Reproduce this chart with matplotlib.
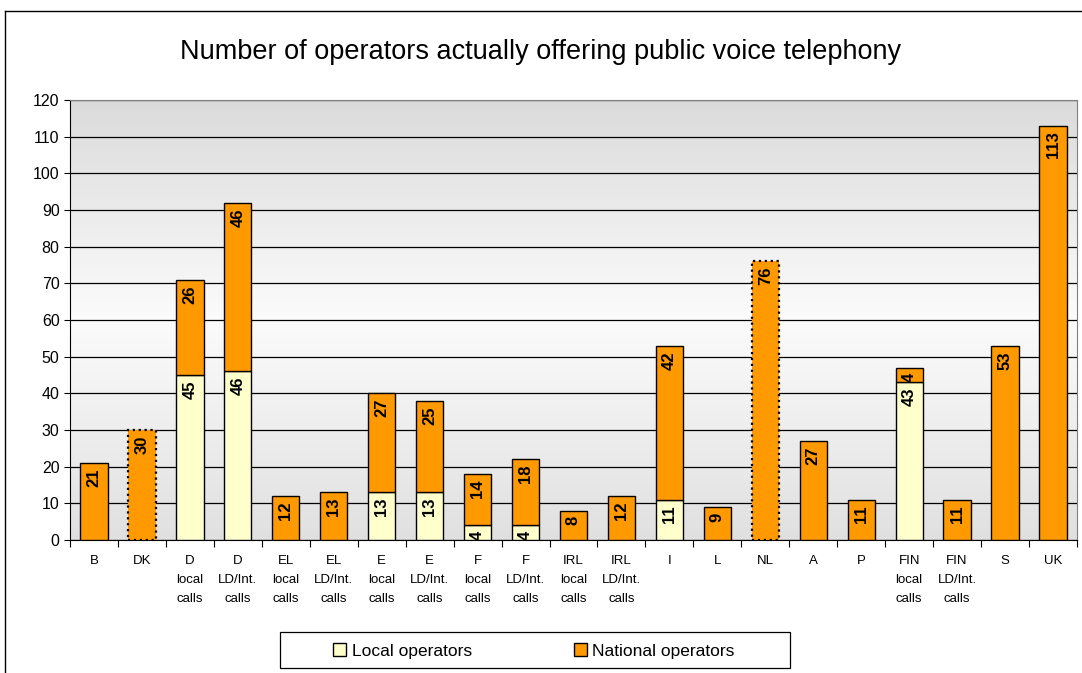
import numpy as np
import matplotlib.pyplot as plt
import matplotlib.transforms as mtrans
from matplotlib.lines import Line2D
from matplotlib.patches import Patch, Rectangle

plt.rcParams['font.family'] = ['Liberation Sans', 'DejaVu Sans']

categories = ["B", "DK", "D\nlocal\ncalls", "D\nLD/Int.\ncalls", "EL\nlocal\ncalls",
              "EL\nLD/Int.\ncalls", "E\nlocal\ncalls", "E\nLD/Int.\ncalls", "F\nlocal\ncalls",
              "F\nLD/Int.\ncalls", "IRL\nlocal\ncalls", "IRL\nLD/Int.\ncalls", "I", "L", "NL",
              "A", "P", "FIN\nlocal\ncalls", "FIN\nLD/Int.\ncalls", "S", "UK"]
local_ops = [0, 0, 45, 46, 0, 0, 13, 13, 4, 4, 0, 0, 11, 0, 0, 0, 0, 43, 0, 0, 0]
national_ops = [21, 30, 26, 46, 12, 13, 27, 25, 14, 18, 8, 12, 42, 9, 76, 27, 11, 4, 11, 53, 113]
dotted = ["DK", "NL"]

local_col = "#FFFFCC"
nat_col = "#FF9900"

fig = plt.figure(figsize=(10.82, 6.73), dpi=100)
ax = fig.add_axes([70 / 1082, 133 / 673, 1007 / 1082, 440 / 673])

# background gradient of the plot area
grad = np.concatenate([np.linspace(0.86, 0.985, 50), np.linspace(0.985, 0.88, 50)])
img = np.dstack([grad, grad, grad]).reshape(100, 1, 3)
ax.imshow(img, extent=[-0.5, 20.5, 0, 120], aspect="auto", zorder=0)

# label offset just below segment top
off = ax.transData + mtrans.ScaledTranslation(0, -4 / 72, fig.dpi_scale_trans)

x = np.arange(len(categories))
w = 0.57
for i in x:
    ls = ":" if categories[i] in dotted else "-"
    lw = 1.6 if categories[i] in dotted else 1.0
    if local_ops[i] > 0:
        ax.bar(i, local_ops[i], w, color=local_col, edgecolor="black", linewidth=1.0, zorder=3)
    ax.bar(i, national_ops[i], w, bottom=local_ops[i], color=nat_col, edgecolor="black",
           linewidth=lw, linestyle=ls, zorder=3)
    if local_ops[i] > 0:
        ax.text(i, local_ops[i], str(local_ops[i]), rotation=90, ha="center", va="top",
                fontsize=12, fontweight="bold", zorder=4, transform=off)
    top = local_ops[i] + national_ops[i]
    ax.text(i, top, str(national_ops[i]), rotation=90, ha="center", va="top",
            fontsize=12, fontweight="bold", zorder=4, transform=off)

ax.set_xlim(-0.5, 20.5)
ax.set_ylim(0, 120)
ax.set_yticks(np.arange(0, 121, 10))
ax.yaxis.grid(True, color="black", linewidth=0.9, zorder=1)
ax.set_axisbelow(True)
ax.tick_params(axis="y", labelsize=11.5, length=4, direction="out")

ax.set_xticks(np.arange(-0.5, 21, 1))
ax.set_xticklabels([])
ax.tick_params(axis="x", which="major", length=5, direction="out")
ax.set_xticks(x, minor=True)
ax.set_xticklabels(categories, minor=True, fontsize=9.5, va="top", ha="center", linespacing=1.75)
ax.tick_params(axis="x", which="minor", length=0, pad=11)

for s in ["top", "right"]:
    ax.spines[s].set_color("#808080")
ax.spines["left"].set_color("black")
ax.spines["bottom"].set_color("black")

fig.text(0.5, 1 - 52 / 673, "Number of operators actually offering public voice telephony",
         ha="center", va="center", fontsize=19.5)

# legend with its own box
fig.add_artist(Rectangle((280 / 1082, 1 - 668 / 673), 510 / 1082, 36 / 673,
                         transform=fig.transFigure, fill=False, edgecolor="black", lw=0.9))
handles = [Patch(facecolor=local_col, edgecolor="black", label="Local operators"),
           Patch(facecolor=nat_col, edgecolor="black", label="National operators")]
fig.legend(handles=handles, loc="center", bbox_to_anchor=(534 / 1082, 1 - 651 / 673),
           ncol=2, fontsize=12.5, frameon=False, handlelength=0.75, handleheight=0.75,
           handletextpad=0.3, columnspacing=5.9)

# outer chart border
fig.add_artist(Line2D([5 / 1082, 1], [1 - 11 / 673, 1 - 11 / 673], color="black", lw=1))
fig.add_artist(Line2D([5 / 1082, 5 / 1082], [0, 1 - 11 / 673], color="black", lw=1))

fig.savefig("out.png", dpi=100)
